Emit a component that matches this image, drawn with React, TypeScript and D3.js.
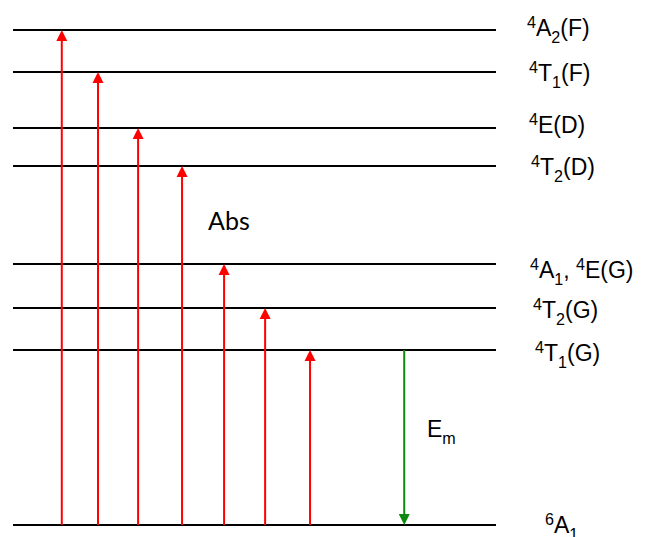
import React from "react";
import * as d3 from "d3";

// ---- data ----
const levelNames = ["^6A_1", "^4T_1(G)", "^4T_2(G)", "^4A_1, ^4E(G)", "^4T_2(D)", "^4E(D)", "^4T_1(F)", "^4A_2(F)"];
const levelEnergies = [0, 175, 217, 261, 359, 397, 453, 495]; // arbitrary units
// absorption transitions: ground -> level index, drawn at horizontal position (0-100)
const absTargets = [7, 6, 5, 4, 3, 2, 1];
const absPositions = [10.1, 17.6, 25.9, 35.0, 43.7, 52.2, 61.5];
// emission: level index -> ground
const emFrom = 1;
const emPosition = 81.0;

// ---- layout ----
const W = 645, H = 537;
const labelX = [545, 535, 533, 530, 531, 529, 529, 527];
const labelDy = [8, 11, 10, 14, 9, 5, 9, 6];

const y = d3.scaleLinear().domain([0, 495]).range([525, 30]);
const x = d3.scaleLinear().domain([0, 100]).range([13, 496]);

function parseLabel(s: string) {
  const parts: { t: string; k: "n" | "sup" | "sub" }[] = [];
  let i = 0;
  let buf = "";
  while (i < s.length) {
    const c = s[i];
    if (c === "^" || c === "_") {
      if (buf) { parts.push({ t: buf, k: "n" }); buf = ""; }
      parts.push({ t: s[i + 1], k: c === "^" ? "sup" : "sub" });
      i += 2;
    } else {
      buf += c;
      i++;
    }
  }
  if (buf) parts.push({ t: buf, k: "n" });
  return parts;
}

function RichText({ text, x0, y0, size }: { text: string; x0: number; y0: number; size: number }) {
  const parts = parseLabel(text);
  let cur = 0;
  const small = size * 0.7;
  return (
    <text x={x0} y={y0} fontFamily="Liberation Sans, Arial, sans-serif" fontSize={size} fill="#000">
      {parts.map((p, i) => {
        let target = 0;
        let fs = size;
        if (p.k === "sup") { target = -size * 0.36; fs = small; }
        if (p.k === "sub") { target = size * 0.3; fs = small; }
        const dy = target - cur;
        cur = target;
        return (
          <tspan key={i} dy={dy} fontSize={fs}>{p.t}</tspan>
        );
      })}
    </text>
  );
}

function ArrowUp({ xp, y0, y1, color }: { xp: number; y0: number; y1: number; color: string }) {
  const hh = 11, hw = 5.5;
  return (
    <g>
      <line x1={xp} x2={xp} y1={y0} y2={y1 + hh} stroke={color} strokeWidth={2} />
      <path d={`M${xp},${y1}L${xp - hw},${y1 + hh}L${xp + hw},${y1 + hh}Z`} fill={color} />
    </g>
  );
}

function ArrowDown({ xp, y0, y1, color }: { xp: number; y0: number; y1: number; color: string }) {
  const hh = 11, hw = 5.5;
  return (
    <g>
      <line x1={xp} x2={xp} y1={y0} y2={y1 - hh} stroke={color} strokeWidth={2} />
      <path d={`M${xp},${y1}L${xp - hw},${y1 - hh}L${xp + hw},${y1 - hh}Z`} fill={color} />
    </g>
  );
}

export default function App() {
  return (
    <svg width={W} height={H} style={{ position: "absolute", left: 0, top: 0, background: "#fff" }}>
      <rect width={W} height={H} fill="#fff" />
      {levelEnergies.map((e, i) => (
        <line key={i} x1={x(0)} x2={x(100)} y1={y(e)} y2={y(e)} stroke="#000" strokeWidth={2} />
      ))}
      {absTargets.map((t, i) => (
        <ArrowUp key={i} xp={x(absPositions[i])} y0={y(levelEnergies[0])} y1={y(levelEnergies[t])} color="#ff0000" />
      ))}
      <ArrowDown xp={x(emPosition)} y0={y(levelEnergies[emFrom])} y1={y(levelEnergies[0])} color="#0e8a0e" />
      {levelNames.map((n, i) => (
        <RichText key={i} text={n} x0={labelX[i]} y0={y(levelEnergies[i]) + labelDy[i]} size={23} />
      ))}
      <text x={208} y={230} fontFamily="Lato, 'Open Sans', sans-serif" fontSize={25} fill="#000">Abs</text>
      <RichText text="E_m" x0={427} y0={437} size={23} />
    </svg>
  );
}
